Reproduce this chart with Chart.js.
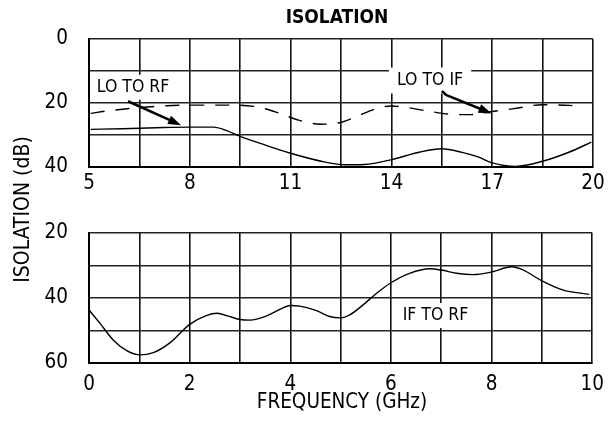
<!DOCTYPE html>
<html>
<head>
<meta charset="utf-8">
<script src="https://cdn.jsdelivr.net/npm/chart.js@4.4.1/dist/chart.umd.min.js"></script>
<style>
  html, body { margin: 0; padding: 0; background: #fff; }
  #wrap { position: relative; width: 613px; height: 423px; }
  #wrap canvas { position: absolute; left: 0; top: 0; }
</style>
</head>
<body>
<div id="wrap">
  <canvas id="bottomChart" width="613" height="423"></canvas>
  <canvas id="topChart" width="613" height="200"></canvas>
</div>
<script>
// ---- data ----
// top panel, 5-20 GHz
const loRfFreq = [5.05, 6, 7, 8, 8.7, 9.0, 9.5, 10.1, 11, 12, 12.6, 13.2, 14, 14.85, 15.5, 16.1, 16.6, 17, 17.7, 18.5, 19.3, 19.95];
const loRfIso  = [28.3, 28.1, 27.8, 27.6, 27.6, 28.3, 30.5, 32.7, 35.8, 38.5, 39.4, 39.3, 37.8, 35.4, 34.4, 35.5, 37.0, 38.8, 39.9, 38.3, 35.4, 32.3];

const loIfFreq = [5.05, 5.5, 6.5, 7.3, 8, 9.1, 9.9, 10.6, 11.2, 11.9, 12.5, 13.0, 13.5, 14.0, 14.5, 15.1, 15.8, 16.3, 17, 17.6, 18.5, 19.3, 19.7];
const loIfIso  = [23.3, 22.6, 21.5, 20.9, 20.7, 20.7, 21.1, 23.0, 25.3, 26.7, 26.1, 24.1, 22.0, 21.0, 21.5, 22.6, 23.6, 23.7, 22.7, 21.9, 20.6, 20.8, 21.2];

// bottom panel, 0-10 GHz
const ifRfFreq = [0, 0.22, 0.48, 0.75, 1.0, 1.28, 1.6, 2.0, 2.33, 2.55, 2.75, 3.0, 3.2, 3.53, 3.79, 4.0, 4.19, 4.52, 4.78, 5.0, 5.18, 5.44, 5.71, 6.0, 6.37, 6.77, 7.0, 7.3, 7.63, 8.0, 8.4, 8.6, 9.0, 9.41, 9.94];
const ifRfIso  = [43.7, 47.8, 52.9, 56.2, 57.5, 56.8, 53.9, 48.1, 45.4, 44.7, 45.5, 46.6, 46.8, 45.5, 43.5, 42.3, 42.5, 43.9, 45.7, 46.1, 45.2, 42.2, 38.6, 35.3, 32.4, 31.0, 31.4, 32.4, 32.8, 32.0, 30.4, 31.2, 34.7, 37.5, 38.9];

// tick labels (grid is drawn at half steps, only these get text)
const topXLabels = [5, 8, 11, 14, 17, 20];
const topYLabels = [0, 20, 40];
const botXLabels = [0, 2, 4, 6, 8, 10];
const botYLabels = [20, 40, 60];

const FONT = "'Liberation Sans Narrow', 'Arial Narrow', 'DejaVu Sans Condensed', sans-serif";
Chart.defaults.font.family = FONT;
Chart.defaults.color = '#000';

const pts = (xs, ys) => xs.map((x, i) => ({ x: x, y: ys[i] }));

// white-boxed curve labels and arrows, in data units
function drawLabel(chart, lab) {
  const ctx = chart.ctx;
  const cx = chart.scales.x.getPixelForValue(lab.x);
  const cy = chart.scales.y.getPixelForValue(lab.y);
  ctx.save();
  ctx.font = lab.size + 'px ' + FONT;
  const w = ctx.measureText(lab.text).width;
  ctx.fillStyle = '#fff';
  ctx.fillRect(cx - w / 2 - lab.padX, cy - lab.h / 2, w + 2 * lab.padX, lab.h);
  ctx.fillStyle = '#000';
  ctx.textAlign = 'center';
  ctx.textBaseline = 'middle';
  ctx.fillText(lab.text, cx, cy);
  ctx.restore();
}

function drawArrow(chart, path) {
  const ctx = chart.ctx;
  const p = path.map(q => [chart.scales.x.getPixelForValue(q[0]), chart.scales.y.getPixelForValue(q[1])]);
  const n = p.length;
  const [x1, y1] = p[n - 2], [x2, y2] = p[n - 1];
  const a = Math.atan2(y2 - y1, x2 - x1);
  const L = 13, W = 4.5;
  ctx.save();
  ctx.strokeStyle = '#000';
  ctx.fillStyle = '#000';
  ctx.lineWidth = 2.5;
  ctx.lineJoin = 'round';
  ctx.beginPath();
  ctx.moveTo(p[0][0], p[0][1]);
  for (let i = 1; i < n - 1; i++) ctx.lineTo(p[i][0], p[i][1]);
  ctx.lineTo(x2 - (L - 2) * Math.cos(a), y2 - (L - 2) * Math.sin(a));
  ctx.stroke();
  ctx.beginPath();
  ctx.moveTo(x2, y2);
  ctx.lineTo(x2 - L * Math.cos(a) + W * Math.sin(a), y2 - L * Math.sin(a) - W * Math.cos(a));
  ctx.lineTo(x2 - L * Math.cos(a) - W * Math.sin(a), y2 - L * Math.sin(a) + W * Math.cos(a));
  ctx.closePath();
  ctx.fill();
  ctx.restore();
}

function notesPlugin(labels, arrows, extra) {
  return {
    id: 'notes',
    afterDatasetsDraw(chart) {
      labels.forEach(l => drawLabel(chart, l));
      arrows.forEach(a => drawArrow(chart, a));
      if (extra) extra(chart);
    }
  };
}

function scales(xMin, xMax, xStep, xLabels, xPad, xH, yMin, yMax, yLabels) {
  return {
    x: {
      type: 'linear', min: xMin, max: xMax,
      afterFit: s => { s.height = xH; },
      grid: { color: '#111', lineWidth: 1.6, drawTicks: false },
      border: { color: '#000', width: 2 },
      ticks: {
        stepSize: xStep, autoSkip: false, maxRotation: 0, padding: xPad,
        font: { size: 20.5 },
        callback: v => xLabels.includes(v) ? String(v) : ''
      }
    },
    y: {
      type: 'linear', min: yMin, max: yMax, reverse: true,
      afterFit: s => { s.width = 89; },
      grid: { color: '#222', lineWidth: 1.5, drawTicks: false },
      border: { color: '#000', width: 2 },
      ticks: {
        stepSize: 10, padding: 21,
        font: { size: 20.5 },
        callback: v => yLabels.includes(v) ? String(v) : ''
      }
    }
  };
}

const common = {
  responsive: false,
  animation: false,
  plugins: { legend: { display: false }, tooltip: { enabled: false } },
  elements: { point: { radius: 0 } }
};

// bottom panel (full-size canvas so it also carries the shared axis titles)
new Chart(document.getElementById('bottomChart'), {
  type: 'line',
  data: {
    datasets: [{
      label: 'IF TO RF',
      data: pts(ifRfFreq, ifRfIso),
      borderColor: '#000', borderWidth: 1.4,
      cubicInterpolationMode: 'monotone'
    }]
  },
  options: Object.assign({}, common, {
    layout: { padding: { top: 233, right: 20, left: 0, bottom: 0 } },
    scales: scales(0, 10, 1, botXLabels, 9, 60, 20, 60, botYLabels)
  }),
  plugins: [notesPlugin(
    [{ text: 'IF TO RF', x: 6.885, y: 45.4, size: 17.5, padX: 5, h: 25 }],
    [],
    chart => {
      const ctx = chart.ctx;
      ctx.save();
      ctx.fillStyle = '#000';
      ctx.textAlign = 'center';
      ctx.textBaseline = 'middle';
      ctx.font = '20.5px ' + FONT;
      ctx.fillText('FREQUENCY (GHz)', 342, 403);
      ctx.translate(24, 209.5);
      ctx.rotate(-Math.PI / 2);
      ctx.font = '21px ' + FONT;
      ctx.fillText('ISOLATION (dB)', 0, 0);
      ctx.restore();
    }
  )]
});

// top panel
new Chart(document.getElementById('topChart'), {
  type: 'line',
  data: {
    datasets: [{
      label: 'LO TO RF',
      data: pts(loRfFreq, loRfIso),
      borderColor: '#000', borderWidth: 1.4,
      cubicInterpolationMode: 'monotone'
    }, {
      label: 'LO TO IF',
      data: pts(loIfFreq, loIfIso),
      borderColor: '#000', borderWidth: 1.4, borderDash: [14, 11],
      cubicInterpolationMode: 'monotone'
    }]
  },
  options: Object.assign({}, common, {
    layout: { padding: { top: 39, right: 20, left: 0, bottom: 0 } },
    scales: scales(5, 20, 1.5, topXLabels, 5, 32, 0, 40, topYLabels)
  }),
  plugins: [notesPlugin(
    [
      { text: 'LO TO RF', x: 6.31, y: 15.1, size: 17.5, padX: 5, h: 25 },
      { text: 'LO TO IF', x: 15.15, y: 13.0, size: 17.5, padX: 8, h: 26 }
    ],
    [
      [[6.16, 19.5], [7.74, 27.0]],
      [[15.5, 16.3], [15.64, 17.6], [16.98, 23.3]]
    ],
    chart => {
      const ctx = chart.ctx;
      ctx.save();
      ctx.fillStyle = '#000';
      ctx.textAlign = 'center';
      ctx.textBaseline = 'middle';
      ctx.font = 'bold 19px ' + FONT;
      ctx.fillText('ISOLATION', 337, 18);
      ctx.restore();
    }
  )]
});
</script>
</body>
</html>
